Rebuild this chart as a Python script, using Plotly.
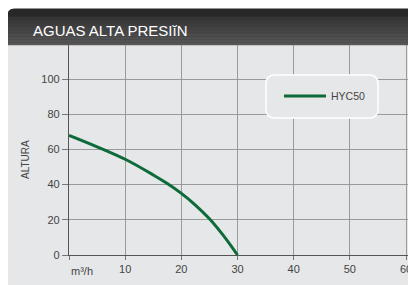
import plotly.graph_objects as go

# ---- data ----
caudal = [0, 5, 10, 15, 17.5, 20, 22.5, 25, 27.5, 30]            # m3/h
altura = [68, 61.5, 54.4, 45.5, 40.6, 35, 28.4, 20.6, 11.0, 0]    # m
serie = "HYC50"
x_ticks = [0, 10, 20, 30, 40, 50, 60]
x_ticklabels = ["", "10", "20", "30", "40", "50", "60"]
y_ticks = [0, 20, 40, 60, 80, 100]
y_ticklabels = ["0", "20", "40", "60", "80", "100"]
title = "AGUAS ALTA PRESIĭN"
x_unit = "m³/h"
y_title = "ALTURA"

OFF = 8  # page body margin
W, H = 416 - OFF, 285 - OFF
L, R, T, B = 69 - OFF, 0, 45 - OFF, 30
pw, ph = W - L - R, H - T - B
XS, YS = 5.617, 1.76  # px per unit


def px(x):  # page pixel -> paper
    return (x - OFF - L) / pw


def py(y):
    return (H + OFF - B - y) / ph


FONT = "Liberation Sans, Arial, sans-serif"
GRAY = "#e6e7e8"
RIGHT = 418

fig = go.Figure()
fig.add_trace(go.Scatter(x=caudal, y=altura, mode="lines", name=serie,
                         line=dict(color="#0d6b3a", width=3, shape="spline", smoothing=1),
                         cliponaxis=False))

shapes = []
# gray panel
shapes.append(dict(type="rect", xref="paper", yref="paper", x0=px(7), x1=px(RIGHT),
                   y0=py(288), y1=py(45), fillcolor=GRAY, line=dict(width=0), layer="below"))
# header with rounded top-left corner
r = 8
top, bot, left = 8.5, 45, 7
path = (f"M {px(left)},{py(bot)} L {px(left)},{py(top + r)} "
        f"Q {px(left)},{py(top)} {px(left + r)},{py(top)} "
        f"L {px(RIGHT)},{py(top)} L {px(RIGHT)},{py(bot)} Z")
shapes.append(dict(type="path", xref="paper", yref="paper", path=path,
                   fillcolor="#282828", line=dict(width=0), layer="above"))
c0, c1 = (0x28, 0x28, 0x28), (0x58, 0x58, 0x59)
y_start = top + r
n = 20
step = (bot - y_start) / n
for i in range(n):
    t = (y_start + (i + 0.5) * step - top) / (bot - top)
    col = "rgb(%d,%d,%d)" % tuple(round(a + (b - a) * t) for a, b in zip(c0, c1))
    shapes.append(dict(type="rect", xref="paper", yref="paper", x0=px(left), x1=px(RIGHT),
                       y0=py(y_start + (i + 1) * step + 0.3), y1=py(y_start + i * step),
                       fillcolor=col, line=dict(width=0), layer="above"))
# legend box
lx0, lx1, ly0, ly1, lr = 266, 378, 75, 118, 9
lpath = (f"M {px(lx0 + lr)},{py(ly0)} L {px(lx1 - lr)},{py(ly0)} "
         f"Q {px(lx1)},{py(ly0)} {px(lx1)},{py(ly0 + lr)} "
         f"L {px(lx1)},{py(ly1 - lr)} Q {px(lx1)},{py(ly1)} {px(lx1 - lr)},{py(ly1)} "
         f"L {px(lx0 + lr)},{py(ly1)} Q {px(lx0)},{py(ly1)} {px(lx0)},{py(ly1 - lr)} "
         f"L {px(lx0)},{py(ly0 + lr)} Q {px(lx0)},{py(ly0)} {px(lx0 + lr)},{py(ly0)} Z")
shapes.append(dict(type="path", xref="paper", yref="paper", path=lpath,
                   fillcolor=GRAY, line=dict(color="white", width=1.5), layer="above"))

annotations = [
    dict(text=title, xref="paper", yref="paper", x=px(31), y=py(30.5), xanchor="left",
         yanchor="middle", showarrow=False, font=dict(family=FONT, size=15, color="white")),
    dict(text=x_unit, xref="x", yref="paper", x=0, y=py(271), xanchor="left",
         yanchor="middle", showarrow=False, font=dict(family=FONT, size=11, color="#444")),
    dict(text=y_title, xref="paper", yref="paper", x=px(25), y=py(160), textangle=-90,
         xanchor="center", yanchor="middle", showarrow=False,
         font=dict(family=FONT, size=10, color="#444")),
]

fig.update_layout(
    width=W, height=H, margin=dict(l=L, r=R, t=T, b=B, pad=0, autoexpand=False),
    paper_bgcolor="white", plot_bgcolor=GRAY,
    shapes=shapes, annotations=annotations,
    showlegend=True,
    legend=dict(x=px(279), y=py(96), xanchor="left", yanchor="middle",
                bgcolor="rgba(0,0,0,0)", borderwidth=0,
                font=dict(family=FONT, size=10.5, color="#444"), itemwidth=42),
    xaxis=dict(range=[0, pw / XS], tickvals=x_ticks, ticktext=x_ticklabels,
               showgrid=True, gridcolor="#9a9a9a", gridwidth=1, zeroline=False,
               showline=True, linecolor="#555", linewidth=1.2, automargin=False,
               ticks="outside", ticklen=4, tickcolor="#777", ticklabeloverflow="allow",
               tickfont=dict(family=FONT, size=11, color="#444"), fixedrange=True),
    yaxis=dict(range=[0, ph / YS], tickvals=y_ticks, ticktext=y_ticklabels,
               showgrid=True, gridcolor="#9a9a9a", gridwidth=1, zeroline=False,
               showline=True, linecolor="#555", linewidth=1.2, automargin=False,
               ticks="outside", ticklen=6, tickcolor="#777",
               tickfont=dict(family=FONT, size=11, color="#444"), fixedrange=True),
)
fig.write_html("out.html")
